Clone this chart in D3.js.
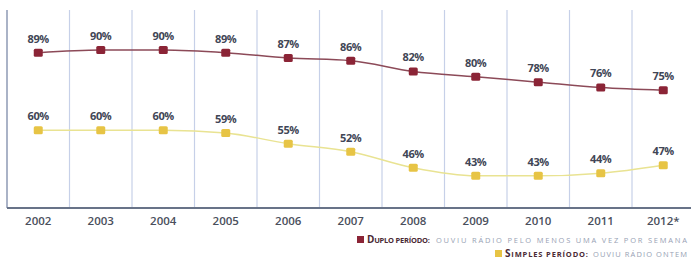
<!DOCTYPE html>
<html><head><meta charset="utf-8">
<script src="https://cdn.jsdelivr.net/npm/d3@7/dist/d3.min.js"></script>
<style>
body{margin:0;background:#fff;}
svg{display:block;}
</style></head>
<body><svg id="c" width="691" height="266"></svg>
<script>
const years = ["2002","2003","2004","2005","2006","2007","2008","2009","2010","2011","2012*"];
const duplo = [89,90,90,89,87,86,82,80,78,76,75];
const simples = [60,60,60,59,55,52,46,43,43,44,47];
const legendDuplo = ["Duplo período:", "ouviu rádio pelo menos uma vez por semana"];
const legendSimples = ["Simples período:", "ouviu rádio ontem"];

const svg = d3.select("#c");
const x = d3.scaleBand().domain(years).range([7, 7 + 62.5*years.length]).padding(0);
const y = d3.scaleLinear().domain([31, 90]).range([208, 50]);
const plotTop = 10, base = 208;

// gridlines
svg.append("g").selectAll("line").data(years.slice(0, -1)).join("line")
  .attr("x1", d => x(d) + x.bandwidth()).attr("x2", d => x(d) + x.bandwidth())
  .attr("y1", plotTop).attr("y2", base)
  .attr("stroke", "#c6d0e8").attr("stroke-width", 1.2);
// left axis
svg.append("line").attr("x1", 7).attr("x2", 7).attr("y1", plotTop).attr("y2", base)
  .attr("stroke", "#8e9ab5").attr("stroke-width", 1.5);
// baseline axis
const xAxis = d3.axisBottom(x).tickSize(0).tickPadding(9);
const gx = svg.append("g").attr("transform", `translate(0,${base})`).call(xAxis);
gx.select(".domain").attr("stroke", "#687388").attr("stroke-width", 2).attr("d", `M7,0H691`);
gx.selectAll("text").attr("font-family", "Open Sans, sans-serif").attr("font-size", 11.5)
  .attr("font-weight", 600).attr("fill", "#4a4f5c");

function series(vals, lineColor, markColor, labOff) {
  const pts = years.map((d, i) => [x(d) + x.bandwidth()/2, y(vals[i]), vals[i]]);
  svg.append("path").datum(pts)
    .attr("d", d3.line().x(d => d[0]).y(d => d[1]).curve(d3.curveMonotoneX))
    .attr("fill", "none").attr("stroke", lineColor).attr("stroke-width", 1.5);
  svg.append("g").selectAll("rect").data(pts).join("rect")
    .attr("x", d => d[0] - 4.5).attr("y", d => d[1] - 4)
    .attr("width", 9).attr("height", 8).attr("rx", 1.5)
    .attr("fill", markColor);
  svg.append("g").selectAll("text").data(pts).join("text")
    .attr("x", d => d[0]).attr("y", d => d[1] - labOff)
    .attr("text-anchor", "middle")
    .attr("font-family", "Open Sans, sans-serif").attr("font-size", 11)
    .attr("font-weight", 700).attr("fill", "#414656").attr("letter-spacing", -0.4)
    .text(d => d[2] + "%");
}
series(duplo, "#8c4a58", "#8b2436", 10);
series(simples, "#e9e392", "#e7c445", 10);

function legend(xp, yp, color, parts, len1, gap, len2) {
  svg.append("rect").attr("x", xp).attr("y", yp - 4).attr("width", 7).attr("height", 7).attr("fill", color);
  const g = svg.append("g").attr("font-family", "Open Sans, sans-serif");
  const t1 = g.append("text").attr("x", xp + 10).attr("y", yp + 3)
    .attr("textLength", len1).attr("lengthAdjust", "spacing");
  t1.append("tspan").attr("font-size", 10).attr("font-weight", 700).attr("fill", "#4a2a34").text(parts[0][0].toUpperCase());
  t1.append("tspan").attr("font-size", 7.5).attr("font-weight", 700).attr("fill", "#4a2a34").text(parts[0].slice(1).toUpperCase());
  g.append("text").attr("x", xp + 10 + len1 + gap).attr("y", yp + 3)
    .attr("font-size", 7.5).attr("fill", "#98a1b4")
    .attr("textLength", len2).attr("lengthAdjust", "spacing")
    .text(parts[1].toUpperCase());
}
legend(357, 240, "#8b2436", legendDuplo, 63, 6, 251);
legend(495, 254, "#e7c445", legendSimples, 83, 5, 94);
</script></body></html>
